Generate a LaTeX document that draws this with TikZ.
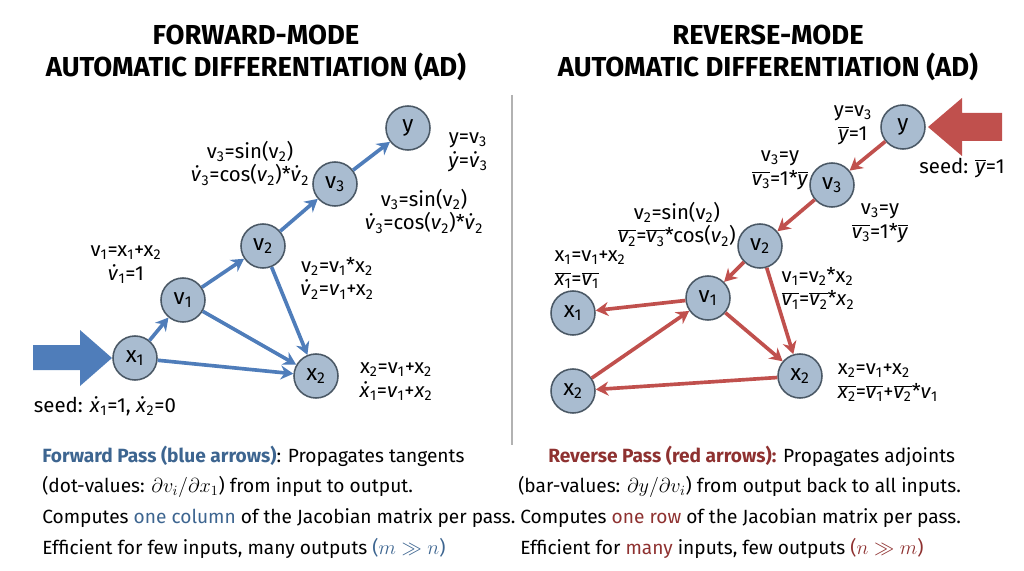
\documentclass[tikz,border=0pt]{standalone}
\usepackage{fontspec}
\setmainfont{Fira Sans}
\usepackage{tikz}
\usetikzlibrary{arrows.meta}
\definecolor{nodefill}{HTML}{A9BCD0}
\definecolor{nodeline}{HTML}{4A5865}
\definecolor{fwd}{HTML}{4F7DBA}
\definecolor{rev}{HTML}{C0504D}
\definecolor{fwdtext}{HTML}{3D6590}
\definecolor{revtext}{HTML}{8E3130}
\tikzstyle{var}=[circle, draw=nodeline, fill=nodefill, line width=1.1pt, minimum size=1.1cm, inner sep=0pt, font=\fontsize{16}{16}\selectfont]
\tikzstyle{farrow}=[draw=fwd, line width=2.6pt, -{Stealth[length=9pt,width=10pt]}]
\tikzstyle{rarrow}=[draw=rev, line width=2.6pt, -{Stealth[length=9pt,width=10pt]}]
\tikzstyle{lbl}=[align=center, inner sep=0pt, font=\fontsize{14.5}{17}\selectfont]
\tikzstyle{txt}=[anchor=west, inner sep=0pt, font=\fontsize{13.6}{17}\selectfont]
\tikzstyle{title}=[align=center, inner sep=0pt, font=\fontsize{19.5}{23}\selectfont\bfseries]
\newcommand{\sbs}[1]{\textsubscript{#1}}
\newcommand{\dv}[2]{\textit{\.{#1}}\sbs{#2}}
\newcommand{\bv}[2]{$\overline{\hbox{\textit{#1}\sbs{#2}}}$}
\begin{document}
\begin{tikzpicture}[x=0.025cm, y=-0.025cm]
        \useasboundingbox (0,0) rectangle (1024,571);
        % titles
        \node[title] (Ftitle) at (256,53) {FORWARD-MODE\\AUTOMATIC DIFFERENTIATION (AD)};
        \node[title] (Rtitle) at (768,53) {REVERSE-MODE\\AUTOMATIC DIFFERENTIATION (AD)};
        \draw[gray!60, line width=1pt] (512,95) -- (512,445);
        % forward graph
        \node[var] (Fx1) at (135,358) {x\sbs{1}};
        \node[var] (Fv1) at (183,300) {v\sbs{1}};
        \node[var] (Fv2) at (263,246) {v\sbs{2}};
        \node[var] (Fv3) at (335,184) {v\sbs{3}};
        \node[var] (Fy) at (408,128) {y};
        \node[var] (Fx2) at (316,376) {x\sbs{2}};
        \draw[farrow] (Fx1) -- (Fv1);
        \draw[farrow] (Fv1) -- (Fv2);
        \draw[farrow] (Fv2) -- (Fv3);
        \draw[farrow] (Fv3) -- (Fy);
        \draw[farrow] (Fv1) -- (Fx2);
        \draw[farrow] (Fv2) -- (Fx2);
        \draw[farrow] (Fx1) -- (Fx2);
        \fill[fwd] (33,345) -- (80,345) -- (80,330) -- (112,358) -- (80,386) -- (80,370) -- (33,370) -- cycle;
        \node[lbl] (Fseed) at (105,406) {seed: \dv{x}{1}=1, \dv{x}{2}=0};
        \node[lbl] (Flv1) at (126,265) {v\sbs{1}=x\sbs{1}+x\sbs{2}\\\dv{v}{1}=1};
        \node[lbl] (Flv3a) at (250,163) {v\sbs{3}=sin(v\sbs{2})\\\dv{v}{3}=cos(\textit{v}\sbs{2})*\dv{v}{2}};
        \node[lbl] (Fly) at (468,152) {y=v\sbs{3}\\\textit{\.y}=\dv{v}{3}};
        \node[lbl] (Flv3b) at (424,211) {v\sbs{3}=sin(v\sbs{2})\\\dv{v}{3}=cos(\textit{v}\sbs{2})*\dv{v}{2}};
        \node[lbl] (Flv2) at (337,278) {v\sbs{2}=v\sbs{1}*x\sbs{2}\\\dv{v}{2}=\textit{v}\sbs{1}+x\sbs{2}};
        \node[lbl] (Flx2) at (396,382) {x\sbs{2}=v\sbs{1}+x\sbs{2}\\\dv{x}{1}=\textit{v}\sbs{1}+\textit{x}\sbs{2}};
        % reverse graph
        \node[var] (Ry) at (903,127) {y};
        \node[var] (Rv3) at (832,185) {v\sbs{3}};
        \node[var] (Rv2) at (760,246) {v\sbs{2}};
        \node[var] (Rv1) at (708,298) {v\sbs{1}};
        \node[var] (Rx1) at (573,313) {x\sbs{1}};
        \node[var] (Rx2) at (800,376) {x\sbs{2}};
        \node[var] (Rx2b) at (573,391) {x\sbs{2}};
        \draw[rarrow] (Ry) -- (Rv3);
        \draw[rarrow] (Rv3) -- (Rv2);
        \draw[rarrow] (Rv2) -- (Rv1);
        \draw[rarrow] (Rv2) -- (Rx2);
        \draw[rarrow] (Rv1) -- (Rx2);
        \draw[rarrow] (Rv1) -- (Rx1);
        \draw[rarrow] (Rx2b) -- (Rv1);
        \draw[rarrow] (Rx2) -- (Rx2b);
        \fill[rev] (1002,113) -- (962,113) -- (962,98) -- (928,127) -- (962,156) -- (962,141) -- (1002,141) -- cycle;
        \node[lbl] (Rseed) at (962,168) {seed: $\overline{\hbox{\textit{y}}}$=1};
        \node[lbl] (Rly) at (853,125) {y=v\sbs{3}\\$\overline{\hbox{\textit{y}}}$=1};
        \node[lbl] (Rlv3a) at (780,170) {v\sbs{3}=y\\\bv{v}{3}=1*$\overline{\hbox{\textit{y}}}$};
        \node[lbl] (Rlv3b) at (880,223) {v\sbs{3}=y\\\bv{v}{3}=1*$\overline{\hbox{\textit{y}}}$};
        \node[lbl, anchor=east] (Rlv2) at (736,224) {v\sbs{2}=sin(v\sbs{2})\\\bv{v}{2}=\bv{v}{3}*cos(\textit{v}\sbs{2})};
        \node[lbl, align=left] (Rlx1) at (590,270) {x\sbs{1}=v\sbs{1}+x\sbs{2}\\\bv{x}{1}=\bv{v}{1}};
        \node[lbl, align=left] (Rlv1) at (818,288) {v\sbs{1}=v\sbs{2}*x\sbs{2}\\\bv{v}{1}=\bv{v}{2}*\textit{x}\sbs{2}};
        \node[lbl, align=left] (Rlx2) at (888,383) {x\sbs{2}=v\sbs{1}+x\sbs{2}\\\bv{x}{2}=\bv{v}{1}+\bv{v}{2}*\textit{v}\sbs{1}};
        % explanations
        \node[txt] (Ft1) at (42,456) {\textcolor{fwdtext}{\bfseries Forward Pass (blue arrows)}: Propagates tangents};
        \node[txt] (Ft2) at (42,487) {(dot-values: $\partial v_i/\partial x_1$) from input to output.};
        \node[txt] (Ft3) at (42,518) {Computes \textcolor{fwdtext}{one column} of the Jacobian matrix per pass.};
        \node[txt] (Ft4) at (42,548) {Efficient for few inputs, many outputs \textcolor{fwdtext}{($m \gg n$)}};
        \node[txt] (Rt1) at (548,456) {\textcolor{revtext}{\bfseries Reverse Pass (red arrows):} Propagates adjoints};
        \node[txt] (Rt2) at (518,487) {(bar-values: $\partial y/\partial v_i$) from output back to all inputs.};
        \node[txt] (Rt3) at (520,518) {Computes \textcolor{revtext}{one row} of the Jacobian matrix per pass.};
        \node[txt] (Rt4) at (520,548) {Efficient for \textcolor{revtext}{many} inputs, few outputs \textcolor{revtext}{($n \gg m$)}};
    \end{tikzpicture}
\end{document}
